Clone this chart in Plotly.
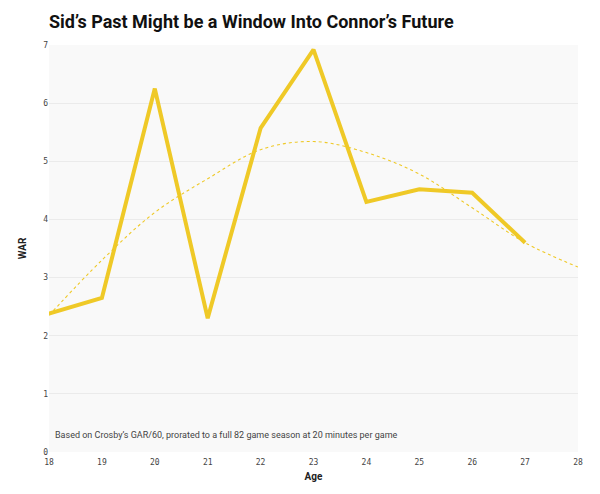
import plotly.graph_objects as go

ages = [18, 19, 20, 21, 22, 23, 24, 25, 26, 27]
war = [2.38, 2.65, 6.25, 2.30, 5.57, 6.92, 4.30, 4.52, 4.46, 3.60]

trend_ages = [18, 19, 20, 21, 22, 23, 24, 25, 26, 27, 28]
trend_war = [2.35, 3.30, 4.12, 4.70, 5.20, 5.34, 5.15, 4.78, 4.20, 3.60, 3.18]

y_ticks = [0, 1, 2, 3, 4, 5, 6, 7]
x_ticks = [18, 19, 20, 21, 22, 23, 24, 25, 26, 27, 28]

title_text = "Sid\u2019s Past Might be a Window Into Connor\u2019s Future"
note_text = "Based on Crosby\u2019s GAR/60, prorated to a full 82 game season at 20 minutes per game"

gold = "#efc927"

fig = go.Figure()
fig.add_trace(go.Scatter(
    x=trend_ages, y=trend_war, mode="lines",
    line=dict(color=gold, width=1.1, dash="dot", shape="spline", smoothing=1.0),
    hoverinfo="skip", showlegend=False,
))
fig.add_trace(go.Scatter(
    x=ages, y=war, mode="lines",
    line=dict(color=gold, width=4),
    showlegend=False,
))

fig.update_layout(
    width=600, height=494,
    margin=dict(l=41, r=30, t=37, b=50),
    paper_bgcolor="white",
    plot_bgcolor="#f9f9f9",
    title=dict(text="<b>" + title_text + "</b>", x=41 / 600, xanchor="left",
               y=1 - 14 / 494, yanchor="middle",
               font=dict(family="Roboto", size=18, color="#111111")),
    xaxis=dict(range=[18, 28], tickvals=x_ticks, showgrid=False, zeroline=False,
               showline=False, ticks="", ticklabelstandoff=4, automargin=False,
               tickfont=dict(family="DejaVu Sans Mono", size=8, color="#444444"),
               title=dict(text="<b>Age</b>", standoff=6,
                          font=dict(family="Roboto", size=10, color="#222222"))),
    yaxis=dict(range=[0, 7], tickvals=y_ticks, showgrid=True, gridcolor="#ebebeb",
               gridwidth=1, zeroline=False, showline=False, ticks="", automargin=False,
               tickfont=dict(family="DejaVu Sans Mono", size=8, color="#444444"),
               title=dict(text="<b>WAR</b>", standoff=14,
                          font=dict(family="Roboto", size=10, color="#222222"))),
    annotations=[dict(text=note_text, xref="paper", yref="paper", x=0.007, y=0.024,
                      xanchor="left", yanchor="bottom", showarrow=False,
                      font=dict(family="Roboto", size=9, color="#444444"))],
)

fig.write_html("out.html")
